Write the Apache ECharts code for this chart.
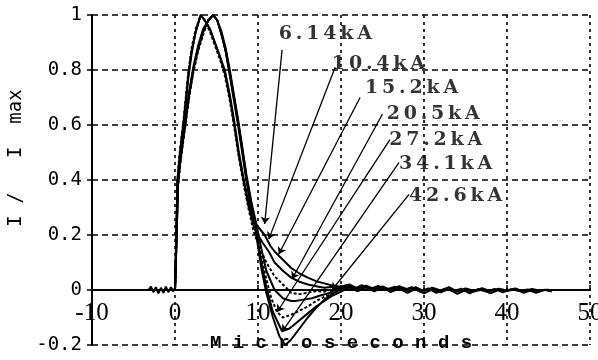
<!DOCTYPE html>
<html>
<head>
<meta charset="utf-8">
<script src="https://cdn.jsdelivr.net/npm/echarts@6/dist/echarts.min.js"></script>
<style>
  html, body { margin: 0; padding: 0; background: #fff; }
  #chart { width: 598px; height: 360px; }
</style>
</head>
<body>
<div id="chart"></div>
<script>
// 各电流等级（归一化波形）
var currents = ['6.14kA', '10.4kA', '15.2kA', '20.5kA', '27.2kA', '34.1kA', '42.6kA'];

var xTicks = [-10, 0, 10, 20, 30, 40, 50];
var yTicks = [-0.2, 0, 0.2, 0.4, 0.6, 0.8, 1];

// [微秒, I/Imax] 从图上读出
var wave614 = [[-3.2,0],[-2.9,0.012],[-2.6,-0.008],[-2.3,0.01],[-2,-0.012],[-1.7,0.008],[-1.4,-0.01],[-1.1,0.012],[-0.8,-0.008],[-0.5,0.01],[-0.2,-0.005],
  [0,0.01],[0.12,0.15],[0.3,0.4],[0.5,0.47],[0.75,0.54],[1,0.6],[1.3,0.69],[1.6,0.78],[2,0.87],[2.5,0.94],[3.1,1],[3.6,0.98],[4.2,0.95],[4.8,0.9],[5.4,0.85],[6,0.8],[6.6,0.71],[7.1,0.62],[7.7,0.5],[8.3,0.4],[8.9,0.31],[9.5,0.25],
  [10,0.23],[10.8,0.2],[11.5,0.16],[12,0.14],[13,0.11],[14,0.08],[15,0.06],[16,0.045],[17,0.032],[18,0.024],[19,0.016],[20,0.012],[21,0.02],[22,0.006],[23,0.016],[24,0.004],[25,0.013],[26,0],[27,0.014],[28,0.003],[29,0.01],
  [30,-0.004],[31,0.008],[32,-0.002],[33,0.01],[34,-0.006],[35,0.006],[36,-0.003],[37,0.007],[38,-0.004],[39,0.005],[40,-0.002],[41,0.006],[42,-0.005],[43,0.004],[44,-0.003],[45,0.002]];
var wave104 = [[-1,0],[0,0],[0.12,0.14],[0.3,0.39],[0.5,0.46],[0.75,0.53],[1,0.59],[1.3,0.68],[1.6,0.77],[2,0.86],[2.5,0.94],[3.1,1],[3.6,0.98],[4.2,0.95],[4.8,0.9],[5.4,0.85],[6,0.79],[6.6,0.7],[7.1,0.61],[7.7,0.49],[8.3,0.39],[8.9,0.3],[9.5,0.23],
  [10,0.2],[10.6,0.17],[11.3,0.14],[12,0.1],[13,0.07],[14,0.045],[15,0.03],[16,0.02],[17,0.014],[18,0.008],[19,0.012],[20,0.004],[21,0.015],[22,0],[23,0.01],[24,-0.003],[25,0.008]];
var wave152 = [[-1,0],[0,0],[0.12,0.15],[0.3,0.4],[0.5,0.48],[0.75,0.55],[1,0.61],[1.3,0.7],[1.6,0.79],[2,0.88],[2.5,0.95],[3.1,1],[3.6,0.98],[4.2,0.94],[4.8,0.89],[5.4,0.84],[6,0.78],[6.6,0.69],[7.1,0.6],[7.7,0.48],[8.3,0.38],[8.9,0.29],[9.5,0.21],
  [10,0.17],[11,0.1],[12,0.05],[13,0.02],[14,-0.01],[15,-0.015],[16,-0.01],[17,-0.004],[18,-0.006],[19,0.004],[20,0.002],[21,0.012],[22,-0.004],[23,0.01],[24,0.002]];
var wave205 = [[-1,0],[0,0],[0.15,0.15],[0.35,0.38],[0.6,0.46],[0.9,0.53],[1.3,0.62],[1.7,0.71],[2.2,0.8],[2.8,0.88],[3.4,0.94],[4,0.98],[4.6,1],[5.1,0.98],[5.6,0.94],[6.1,0.88],[6.6,0.8],[7.1,0.71],[7.6,0.62],[8.1,0.52],[8.6,0.42],[9.2,0.32],[9.8,0.24],
  [10.4,0.15],[11,0.07],[12,0],[13,-0.03],[14,-0.04],[14.5,-0.04],[15.5,-0.035],[16.5,-0.03],[17.5,-0.02],[18.5,-0.012],[19.5,0.004],[20.5,0.016],[21.5,0.002],[22.5,0.018],[23.5,0.004],[24.5,0.015],[25.5,0.002],[26.5,0.012],[27.5,-0.002],[28.5,0.01],
  [29.5,-0.006],[30.5,0.006],[31.5,-0.01],[32.5,0.004],[33.5,-0.004],[34.5,0.005],[35.5,-0.012],[36.5,0.003],[37.5,-0.006],[38.5,0.004],[39.5,-0.008],[40.5,0.003],[41.5,-0.004],[42.5,0.002],[43.5,-0.01],[44.5,0.001],[45.4,-0.006]];
var wave272 = [[-1,0],[0,0],[0.15,0.14],[0.35,0.37],[0.6,0.45],[0.9,0.52],[1.3,0.61],[1.7,0.7],[2.2,0.79],[2.8,0.87],[3.4,0.93],[4,0.98],[4.6,1],[5.1,0.98],[5.6,0.93],[6.1,0.87],[6.6,0.79],[7.1,0.7],[7.6,0.61],[8.1,0.51],[8.6,0.41],[9.2,0.31],[9.8,0.22],
  [10.4,0.12],[11,0.04],[11.6,-0.03],[12.3,-0.08],[13,-0.1],[14,-0.09],[15,-0.075],[16,-0.06],[17,-0.04],[18,-0.025],[19,-0.012],[20,0.005],[21,0.014],[22,-0.002],[23,0.01],[24,0],[25,0.012]];
var wave341 = [[-1,0],[0,0],[0.15,0.15],[0.35,0.38],[0.6,0.46],[0.9,0.53],[1.3,0.62],[1.7,0.71],[2.2,0.8],[2.8,0.88],[3.4,0.94],[4,0.98],[4.6,1],[5.1,0.98],[5.6,0.93],[6.1,0.87],[6.6,0.79],[7.1,0.7],[7.6,0.61],[8.1,0.51],[8.6,0.41],[9.2,0.3],[9.8,0.21],
  [10.4,0.1],[11,0.01],[11.8,-0.08],[12.9,-0.15],[13.8,-0.14],[15,-0.11],[16,-0.085],[17,-0.06],[18,-0.04],[19,-0.02],[20,-0.006],[21,0.01],[22,-0.004],[23,0.012],[24,-0.002],[25,0.01],[26,-0.004],[27,0.008],[28,-0.003],[29,0.006]];
var wave426 = [[-1,0],[0,0],[0.15,0.16],[0.35,0.39],[0.6,0.47],[0.9,0.54],[1.3,0.63],[1.7,0.72],[2.2,0.81],[2.8,0.89],[3.4,0.95],[4,0.98],[4.6,1],[5.1,0.98],[5.6,0.93],[6.1,0.87],[6.6,0.78],[7.1,0.69],[7.6,0.6],[8.1,0.5],[8.6,0.4],[9.2,0.29],[9.8,0.2],
  [10.4,0.08],[11,-0.01],[11.8,-0.1],[12.6,-0.17],[13.3,-0.2],[14,-0.18],[15,-0.14],[16,-0.1],[17,-0.065],[18,-0.035],[19,-0.012],[20,0.002],[21,0.012],[22,-0.004],[23,0.014],[24,-0.005],[25,0.01],[26,-0.008],[27,0.006],[28,-0.01],[29,0.004],
  [30,-0.012],[31,0.002],[32,-0.008],[33,0.003],[34,-0.014],[35,0],[36,-0.006],[37,0.002],[38,-0.012],[39,0.001],[40,-0.004],[41,0.003],[42,-0.01],[43,0],[44,-0.006]];

var waves = [wave614, wave104, wave152, wave205, wave272, wave341, wave426];

// 标注文字位置 (左端) 与引线起止点
var labelAt = [[12.5,0.93],[18.9,0.82],[22.9,0.735],[25.5,0.64],[25.8,0.547],[27,0.457],[28.2,0.34]];
var leaderFrom = [[12.9,0.873],[19.3,0.81],[22.3,0.70],[25.0,0.64],[25.9,0.547],[27,0.464],[28.2,0.348]];
var leaderTo = [[10.8,0.24],[11.3,0.185],[12.5,0.13],[14.1,0.04],[12.3,-0.08],[12.9,-0.152],[18.9,0.0]];

function spaced(s) { return s.split('').join('\u2009'); }

var chart = echarts.init(document.getElementById('chart'), null, { renderer: 'canvas' });

var series = waves.map(function (w, i) {
  return {
    type: 'line',
    name: currents[i],
    data: w,
    symbol: 'none',
    smooth: false,
    lineStyle: { color: '#000', width: 2, type: (i === 2 || i === 4) ? [3, 2] : 'solid' },
    z: 3
  };
});

series.push({
  type: 'lines',
  coordinateSystem: 'cartesian2d',
  symbol: ['none', 'arrow'],
  symbolSize: 7,
  lineStyle: { color: '#000', width: 1.3, opacity: 1 },
  data: leaderFrom.map(function (p, i) { return { coords: [p, leaderTo[i]] }; }),
  z: 4
});

series.push({
  type: 'scatter',
  symbolSize: 0,
  data: labelAt.map(function (p, i) { return { value: p, name: currents[i] }; }),
  label: {
    show: true,
    position: 'right',
    distance: 0,
    formatter: function (p) { return spaced(p.name); },
    fontFamily: 'DejaVu Serif',
    fontWeight: 'bold',
    fontSize: 19,
    color: '#000'
  },
  z: 5
});

var gridH = 330;
// x 轴画在 y=0 处：向上移动 (0 - min) / (max - min) 个网格高度
var zeroShift = gridH * (0 - yTicks[0]) / (yTicks[yTicks.length - 1] - yTicks[0]);

chart.setOption({
  backgroundColor: '#fff',
  animation: false,
  grid: { left: 92, right: 8, top: 15, height: gridH, containLabel: false, outerBoundsMode: 'none' },
  xAxis: {
    type: 'value',
    min: xTicks[0],
    max: xTicks[xTicks.length - 1],
    interval: 10,
    offset: -zeroShift,
    name: 'M i c r o s e c o n d s',
    nameLocation: 'middle',
    nameGap: 44,
    nameTextStyle: { fontFamily: 'Liberation Mono', fontWeight: 'bold', fontSize: 19, color: '#000' },
    axisLine: { onZero: false, lineStyle: { color: '#000', width: 2 } },
    axisTick: { show: true, inside: true, length: 5, lineStyle: { color: '#000', width: 1.5 } },
    axisLabel: { margin: 11, fontFamily: 'Liberation Serif, DejaVu Serif, serif', fontSize: 25, color: '#000' },
    splitLine: { show: true, lineStyle: { color: '#000', width: 1.6, type: [3, 4] } }
  },
  yAxis: {
    type: 'value',
    min: yTicks[0],
    max: yTicks[yTicks.length - 1],
    interval: 0.2,
    name: 'I /   I  max',
    nameLocation: 'middle',
    nameGap: 64,
    nameTextStyle: { fontFamily: 'DejaVu Sans Mono', fontSize: 19, color: '#000', padding: [0, 0, 0, 44] },
    axisLine: { show: true, onZero: false, lineStyle: { color: '#000', width: 2 } },
    axisTick: { show: true, length: 5, lineStyle: { color: '#000', width: 1.5 } },
    axisLabel: { margin: 10, fontFamily: 'DejaVu Sans Mono', fontSize: 19, color: '#000' },
    splitLine: { show: true, lineStyle: { color: '#000', width: 1.6, type: [6, 4] } }
  },
  series: series
});
</script>
</body>
</html>
